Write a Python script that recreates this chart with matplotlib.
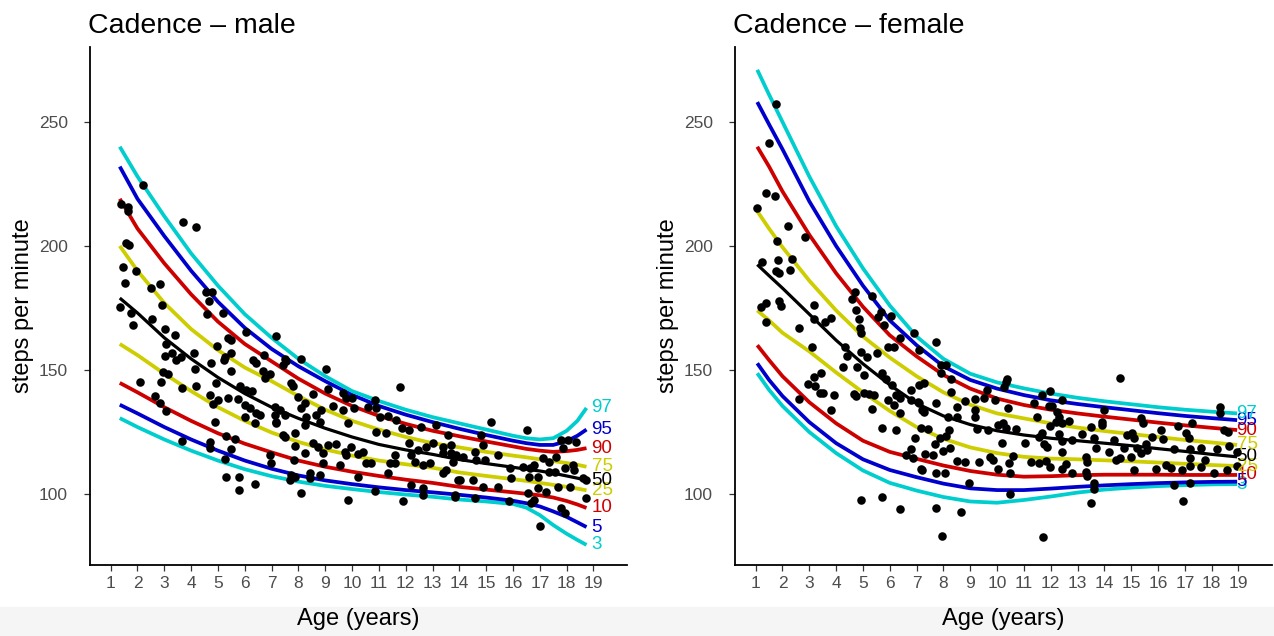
import numpy as np
import matplotlib
matplotlib.use("Agg")
import matplotlib.pyplot as plt
from matplotlib.patches import Rectangle

plt.rcParams['font.family'] = ['Liberation Sans', 'DejaVu Sans']

# centile labels and colours (gamlss style)
centiles = ["3", "5", "10", "25", "50", "75", "90", "95", "97"]
centile_colors = ["#00CDCD", "#0000CD", "#CD0000", "#CDCD00", "black",
                  "#CDCD00", "#CD0000", "#0000CD", "#00CDCD"]

# ---- male centile curves (age, steps/min) ----
age_m = [1.34, 2, 3, 4, 5, 6, 7, 8, 9, 10, 11, 12, 13, 14, 15, 16, 16.5, 17, 17.5, 18, 18.4, 18.74]
male_c3 = [130.6, 127, 122, 117.5, 113.5, 110, 107.2, 105, 103.3, 102, 100.8, 99.8, 98.9, 97.8, 97, 96, 94.5, 91.5, 87.5, 84, 81.5, 79.5]
male_c5 = [136, 132.5, 127, 122, 117.5, 113.5, 110.2, 107.5, 105.5, 104, 102.7, 101.6, 100.7, 99.7, 98.6, 97.3, 96.3, 95, 93, 90.8, 88.6, 86.7]
male_c10 = [144.8, 141, 135, 129.5, 124.5, 120.3, 116.8, 113.5, 111, 109, 107.3, 105.8, 104.5, 102.9, 101.8, 100.7, 100.1, 99.5, 98.6, 97.2, 95.8, 94.4]
male_c25 = [160.5, 156, 148.5, 141.5, 135, 129.5, 124.8, 121, 118, 115.5, 113.5, 112, 110.6, 108.7, 107.3, 106, 105.3, 104.5, 103.7, 102.9, 102.2, 101.5]
male_c50 = [179, 173, 163, 154.5, 147, 140.5, 135, 130.5, 126.5, 123, 120, 117.8, 116, 113.9, 112.3, 110.8, 110, 109.3, 108.4, 107.3, 106.4, 105.6]
male_c75 = [200, 190, 177, 166.5, 158, 151, 145.5, 139.5, 134, 129.5, 126, 123, 120.5, 118.8, 117, 115.5, 114.8, 114, 113.3, 112.5, 111.8, 111]
male_c90 = [219, 207, 193, 180.5, 169.5, 160.5, 153.5, 146.5, 140.5, 135.5, 131.5, 128.3, 125.5, 123.3, 121.2, 119.2, 118.2, 117.5, 117, 117.3, 117.8, 118.5]
male_c95 = [232, 219, 204, 190, 177.5, 167, 158.5, 151.5, 145.5, 140, 135.5, 132, 129, 126.3, 123.8, 121.5, 120.5, 119.8, 119.8, 121.3, 123.5, 126]
male_c97 = [240, 228, 212, 197, 184, 172.5, 163, 154.5, 147.5, 141.5, 137.5, 134, 131, 128.5, 126, 123.5, 122.5, 122, 122.5, 125.5, 129.5, 134.7]

# ---- female centile curves ----
age_f = [1.06, 1.5, 2, 3, 4, 5, 6, 7, 8, 9, 10, 11, 12, 13, 14, 15, 16, 17, 18, 18.95]
female_c3 = [148.7, 142, 135.5, 125, 116.5, 109.5, 104.5, 101.4, 98.8, 97, 96.5, 97.6, 99, 100.6, 101.8, 102.6, 103.2, 103.6, 103.9, 104]
female_c5 = [152.7, 146, 139.5, 129, 120.5, 114, 109.7, 106.8, 104.2, 102.3, 101.6, 101.6, 102.2, 102.9, 103.5, 104, 104.4, 104.7, 104.9, 105]
female_c10 = [160, 154, 147.5, 137, 128.5, 121.5, 117, 114.2, 111.5, 109.3, 107.8, 107, 107.2, 107.6, 107.8, 107.8, 107.8, 107.7, 107.7, 107.7]
female_c25 = [174, 170, 165, 157.5, 149, 141, 133.5, 127, 122.3, 118.8, 116.5, 115, 114.3, 114, 113.6, 113.2, 112.7, 112.2, 111.7, 111.3]
female_c50 = [192.5, 188, 183, 172.5, 162, 152.5, 144, 136.5, 131.5, 128, 125.5, 123.8, 122.5, 121.5, 120.5, 119.5, 118.3, 117.2, 116, 115]
female_c75 = [214, 207, 199.5, 186, 174, 163.5, 155, 147.5, 141, 136, 132.5, 130.5, 128.5, 126.8, 125.4, 124.2, 123, 121.8, 120.8, 119.8]
female_c90 = [240, 232, 222, 204.5, 189, 175.5, 164, 155.5, 148, 142.5, 138.5, 135.9, 134, 132.5, 131.2, 130, 128.8, 127.7, 126.7, 125.8]
female_c95 = [258, 249, 239, 218, 200, 184, 170, 160, 151.5, 146, 142.5, 139.9, 137.8, 136.3, 135, 133.8, 132.6, 131.5, 130.6, 129.8]
female_c97 = [271, 261, 250, 228, 208, 191, 176, 163.5, 154.5, 148.5, 145, 142.6, 140.5, 138.8, 137.4, 136.2, 135, 134, 133.2, 132.5]

# ---- observations (age, cadence) ----
male_obs = [
    (2.2, 224.6), (1.40, 216.8), (1.64, 215.8), (1.64, 214.2), (3.70, 209.6), (4.19, 207.8), (1.58, 201.3),
    (1.68, 200.4), (1.46, 191.4), (1.96, 190.0), (1.55, 185.0), (2.49, 183.2), (2.83, 184.6), (1.34, 175.5),
    (1.77, 173.1), (1.83, 168.0), (2.91, 176.1), (2.54, 170.6), (3.04, 166.4), (3.41, 164.0), (3.08, 160.5),
    (3.04, 155.8), (3.30, 156.7), (3.45, 154.0), (3.63, 155.4), (4.09, 157.0), (2.95, 149.3), (3.14, 148.4),
    (2.08, 145.3), (2.89, 145.2), (3.67, 142.6), (4.19, 143.5), (2.64, 139.6), (2.85, 136.6), (3.05, 133.5),
    (4.13, 150.5), (4.57, 181.3), (4.79, 181.3), (4.66, 177.8), (4.60, 172.6), (5.19, 172.8), (6.06, 165.2),
    (7.18, 163.7), (5.37, 163.0), (5.50, 162.1), (4.96, 159.7), (5.25, 155.1), (5.50, 157.0), (5.21, 154.0),
    (6.30, 154.0), (6.43, 152.9), (4.75, 152.7), (5.47, 149.7), (6.68, 149.7), (6.74, 146.6), (6.93, 148.4),
    (4.94, 144.9), (5.81, 143.5), (6.06, 141.9), (6.28, 141.7), (4.69, 139.9), (5.0, 137.9), (5.37, 138.6),
    (5.74, 138.3), (4.81, 136.2), (5.99, 135.9), (6.18, 134.6), (6.43, 132.5), (5.99, 131.2), (6.55, 131.9),
    (6.37, 128.8), (7.11, 131.9), (7.15, 129.2), (4.88, 128.9), (5.31, 123.5), (5.62, 122.1), (4.69, 120.8),
    (4.69, 118.4), (5.50, 118.0), (3.67, 121.5), (5.25, 114.2), (6.95, 115.7), (6.99, 112.4), (5.31, 107.0),
    (5.78, 106.7), (6.39, 103.9), (5.78, 101.6), (6.72, 156.0),
    (7.49, 154.3), (7.55, 153.6), (8.11, 154.3), (7.42, 152.0), (9.04, 150.3), (7.73, 144.6), (7.80, 143.5),
    (9.10, 142.2), (8.54, 140.2), (7.98, 139.2), (9.66, 140.8), (9.78, 138.8), (10.0, 138.6), (8.23, 136.6),
    (9.29, 135.5), (8.08, 134.6), (7.11, 135.0), (7.30, 133.9), (7.49, 131.9), (8.85, 133.9), (9.66, 133.9),
    (10.09, 134.6), (10.59, 135.2), (10.84, 137.9), (10.88, 134.6), (8.27, 131.2), (8.67, 131.9), (8.23, 127.8),
    (8.79, 129.2), (7.15, 128.8), (9.85, 128.8), (11.03, 130.9), (11.34, 131.5), (11.65, 129.8), (11.87, 126.5),
    (12.12, 125.8), (12.58, 126.9), (13.14, 127.8), (13.57, 123.8), (10.90, 125.1), (11.28, 124.5), (7.42, 123.8),
    (7.86, 124.5), (7.49, 123.1), (7.86, 119.5), (8.54, 120.4), (8.73, 119.1), (9.10, 119.8), (9.41, 120.2),
    (9.72, 117.1), (9.97, 119.1), (10.40, 117.1), (9.78, 115.7), (10.22, 116.1), (8.23, 116.4), (8.91, 116.4),
    (8.91, 112.4), (9.54, 111.7), (10.53, 112.6), (10.72, 112.4), (11.40, 112.6), (11.59, 112.4), (11.59, 115.7),
    (12.14, 120.4), (12.21, 115.7), (12.45, 117.7), (12.33, 113.0), (12.64, 111.7), (12.89, 112.4), (12.76, 119.1),
    (13.01, 120.4), (13.38, 119.1), (13.70, 119.8), (13.38, 116.4), (13.70, 116.4), (13.51, 109.7), (13.38, 108.3),
    (13.88, 115.7), (7.82, 113.7), (11.34, 108.3), (10.22, 107.0), (8.42, 108.3), (8.42, 106.3), (7.73, 107.7),
    (7.86, 107.0), (8.79, 107.7), (7.67, 105.6), (8.11, 100.3), (9.85, 97.6), (10.84, 101.3), (11.90, 97.3),
    (12.21, 103.6), (12.64, 102.3), (12.64, 99.6), (13.82, 99.6), (13.94, 105.6), (11.77, 143.0),
    (15.19, 129.2), (16.52, 125.8), (14.82, 123.8), (14.88, 119.8), (17.80, 121.8), (18.05, 121.8), (18.36, 121.1),
    (17.86, 118.4), (14.57, 117.1), (14.63, 113.7), (15.44, 115.7), (14.13, 115.0), (13.76, 113.0), (14.94, 113.7),
    (15.87, 110.4), (16.37, 111.0), (16.62, 110.4), (17.11, 114.4), (17.36, 113.0), (17.61, 115.0), (16.80, 111.7),
    (18.23, 111.7), (18.29, 109.7), (16.92, 107.0), (16.59, 107.0), (17.36, 109.0), (17.55, 109.0), (17.92, 110.4),
    (18.60, 106.3), (18.73, 105.6), (15.93, 106.3), (14.01, 105.6), (14.50, 105.6), (14.88, 102.9), (15.44, 102.7),
    (16.55, 100.3), (16.92, 102.3), (17.24, 100.9), (17.67, 102.9), (18.11, 102.9), (13.85, 98.9), (14.57, 98.3),
    (15.84, 97.3), (16.68, 96.2), (16.80, 97.6), (17.80, 94.2), (17.92, 92.2), (18.73, 98.3), (17.01, 87.2),
]

female_obs = [
    (1.75, 257.1), (1.50, 241.7), (1.40, 221.5), (1.71, 220.2), (1.06, 215.2), (2.22, 208.2), (2.83, 203.6),
    (1.81, 202.0), (1.22, 193.7), (1.83, 194.4), (2.34, 194.6), (1.77, 189.9), (1.87, 189.0), (2.27, 190.3),
    (1.19, 175.5), (1.37, 176.9), (1.87, 177.9), (1.93, 175.8), (1.37, 169.2), (3.17, 176.2), (2.61, 167.1),
    (3.09, 159.2), (3.17, 170.4), (3.57, 169.2), (3.80, 171.1), (4.69, 181.6), (4.60, 178.5), (5.35, 180.0),
    (5.66, 173.5), (5.57, 171.5), (6.06, 171.9), (5.78, 168.1), (4.75, 174.2), (4.85, 170.4), (4.88, 166.8),
    (4.91, 164.8), (6.90, 165.0), (6.40, 162.8), (7.09, 158.1), (5.95, 159.2), (6.15, 159.2), (5.51, 156.7),
    (4.33, 159.4), (4.42, 155.8), (4.91, 157.1), (5.16, 155.4), (4.27, 151.1), (4.79, 151.1), (5.04, 148.0),
    (5.72, 148.9), (5.85, 146.2), (6.09, 143.9), (6.22, 139.9), (6.40, 138.6), (6.80, 141.9), (7.09, 143.9),
    (7.06, 137.2), (6.81, 137.9), (5.95, 137.9), (6.15, 135.9), (7.19, 133.9), (3.42, 148.7), (3.17, 147.1),
    (2.96, 144.4), (3.20, 143.5), (3.39, 140.6), (3.51, 140.8), (2.61, 138.2), (3.92, 139.9), (4.66, 140.3),
    (4.73, 139.5), (5.04, 140.8), (5.22, 140.3), (5.41, 139.9), (5.32, 134.2), (3.80, 133.9), (5.72, 126.7),
    (6.24, 125.8), (6.40, 132.8), (7.15, 126.7), (6.94, 122.4), (6.81, 118.0), (6.59, 115.7), (6.88, 114.4),
    (7.15, 110.0), (4.91, 97.6), (5.72, 98.7), (6.40, 94.0),
    (7.73, 161.4), (7.90, 152.0), (8.08, 152.0), (7.90, 148.7), (8.27, 146.2), (7.27, 144.6), (8.27, 141.3),
    (7.09, 136.6), (7.27, 133.2), (7.71, 136.6), (8.52, 135.0), (8.80, 137.6), (9.17, 138.2), (9.51, 138.6),
    (9.64, 141.9), (9.94, 137.9), (9.17, 133.9), (9.17, 130.9), (8.52, 131.2), (8.18, 130.9), (10.25, 143.3),
    (10.32, 145.3), (10.38, 146.2), (10.42, 134.8), (9.27, 126.2), (9.68, 125.8), (10.05, 127.8), (10.22, 128.5),
    (10.32, 126.5), (10.69, 126.1), (10.20, 120.4), (7.44, 126.1), (7.86, 122.4), (8.08, 123.4), (8.20, 125.8),
    (7.68, 120.2), (7.98, 117.5), (8.23, 118.4), (7.31, 116.1), (7.61, 115.7), (8.52, 113.4), (8.80, 113.0),
    (9.32, 113.0), (9.72, 115.0), (9.85, 113.7), (10.05, 110.0), (10.44, 112.4), (10.60, 115.3), (10.50, 108.3),
    (7.19, 109.7), (7.73, 108.3), (8.05, 108.3), (8.95, 104.3), (10.50, 99.9), (7.73, 94.2), (8.67, 92.9),
    (7.96, 83.1), (11.71, 82.8), (11.99, 141.7), (11.69, 139.9), (12.41, 137.9), (11.38, 136.8), (11.93, 135.5),
    (12.06, 135.5), (12.25, 133.2), (12.31, 131.2), (12.18, 129.2), (12.43, 128.5), (12.70, 129.6), (11.50, 131.2),
    (11.99, 127.5), (11.06, 120.4), (11.56, 123.1), (11.69, 124.5), (11.75, 120.2), (11.87, 119.1), (12.31, 124.2),
    (12.43, 121.5), (12.41, 117.1), (12.81, 121.8), (13.18, 124.2), (13.49, 127.1), (11.25, 113.0), (11.56, 112.4),
    (11.81, 113.4), (11.99, 111.0), (12.43, 110.0), (12.58, 112.1), (12.78, 108.6), (13.33, 115.0), (13.36, 113.0),
    (13.33, 109.0), (13.36, 107.3), (13.61, 104.3), (13.61, 101.9), (13.49, 96.5),
    (14.57, 146.6), (13.98, 133.9), (13.92, 129.2), (13.92, 127.8), (13.61, 122.4), (14.36, 121.8), (14.86, 123.8),
    (15.04, 124.5), (15.10, 122.4), (15.35, 130.5), (15.45, 128.8), (15.79, 123.1), (16.13, 125.8), (16.20, 122.0),
    (16.74, 127.4), (17.03, 124.5), (17.15, 122.4), (17.28, 128.8), (18.31, 135.2), (18.31, 132.8), (18.45, 125.8),
    (18.60, 125.1), (13.67, 118.4), (14.17, 117.1), (14.42, 113.7), (14.60, 114.4), (14.73, 118.4), (14.98, 115.0),
    (15.23, 118.4), (15.35, 116.4), (15.54, 120.2), (15.60, 117.7), (16.59, 118.0), (17.21, 118.0), (17.21, 114.4),
    (17.59, 118.4), (17.77, 113.7), (18.21, 118.0), (18.64, 119.4), (18.95, 117.1), (15.10, 109.7), (15.91, 110.0),
    (16.28, 111.7), (16.47, 110.4), (16.90, 109.7), (17.21, 111.3), (17.59, 110.8), (18.08, 108.6), (18.58, 109.7),
    (18.95, 111.3), (16.59, 103.6), (17.21, 104.6), (16.94, 97.3),
]

age_ticks = list(range(1, 20))
cadence_ticks = [100, 150, 200, 250]


def centile_panel(ax, ages, curves, obs, title, label_x=18.93):
    obs = np.array(obs)
    ax.scatter(obs[:, 0], obs[:, 1], s=38, color="black", zorder=3, linewidths=0)
    for lab, col, vals in zip(centiles, centile_colors, curves):
        lw = 2.3 if lab == "50" else 2.7
        ax.plot(ages, vals, color=col, lw=lw, solid_capstyle="butt", zorder=2)
        ax.text(label_x, vals[-1], lab, color=col, fontsize=13.5, ha="left", va="center",
                clip_on=False)

    ax.set_xlim(0.23, 20.25)
    ax.set_ylim(71.4, 280.2)
    ax.set_xticks(age_ticks)
    ax.set_yticks(cadence_ticks)
    ax.tick_params(axis="both", colors="#333333", labelcolor="#4d4d4d", labelsize=12.5,
                   length=4, width=0.9)
    ax.tick_params(axis="y", pad=12)
    ax.tick_params(axis="x", pad=4)
    for side in ["top", "right"]:
        ax.spines[side].set_visible(False)
    for side in ["left", "bottom"]:
        ax.spines[side].set_linewidth(1.3)
    ax.set_xlabel("Age (years)", fontsize=17, labelpad=12)
    ax.set_ylabel("steps per minute", fontsize=17, labelpad=3)
    ax.set_title(title, fontsize=20.5, loc="left", pad=10, x=-0.003)


fig = plt.figure(figsize=(12.74, 6.36), dpi=100)
fig.patches.append(Rectangle((0, 0), 1, 29 / 636, transform=fig.transFigure,
                             color="#f5f5f5", zorder=-5))

ax1 = fig.add_axes([90 / 1274, 71 / 636, 537 / 1274, 518 / 636])
ax2 = fig.add_axes([735 / 1274, 71 / 636, 537 / 1274, 518 / 636])

male_curves = [male_c3, male_c5, male_c10, male_c25, male_c50, male_c75, male_c90, male_c95, male_c97]
female_curves = [female_c3, female_c5, female_c10, female_c25, female_c50, female_c75,
                 female_c90, female_c95, female_c97]

centile_panel(ax1, age_m, male_curves, male_obs, "Cadence \u2013 male")
centile_panel(ax2, age_f, female_curves, female_obs, "Cadence \u2013 female")

fig.savefig("out.png", dpi=100)
